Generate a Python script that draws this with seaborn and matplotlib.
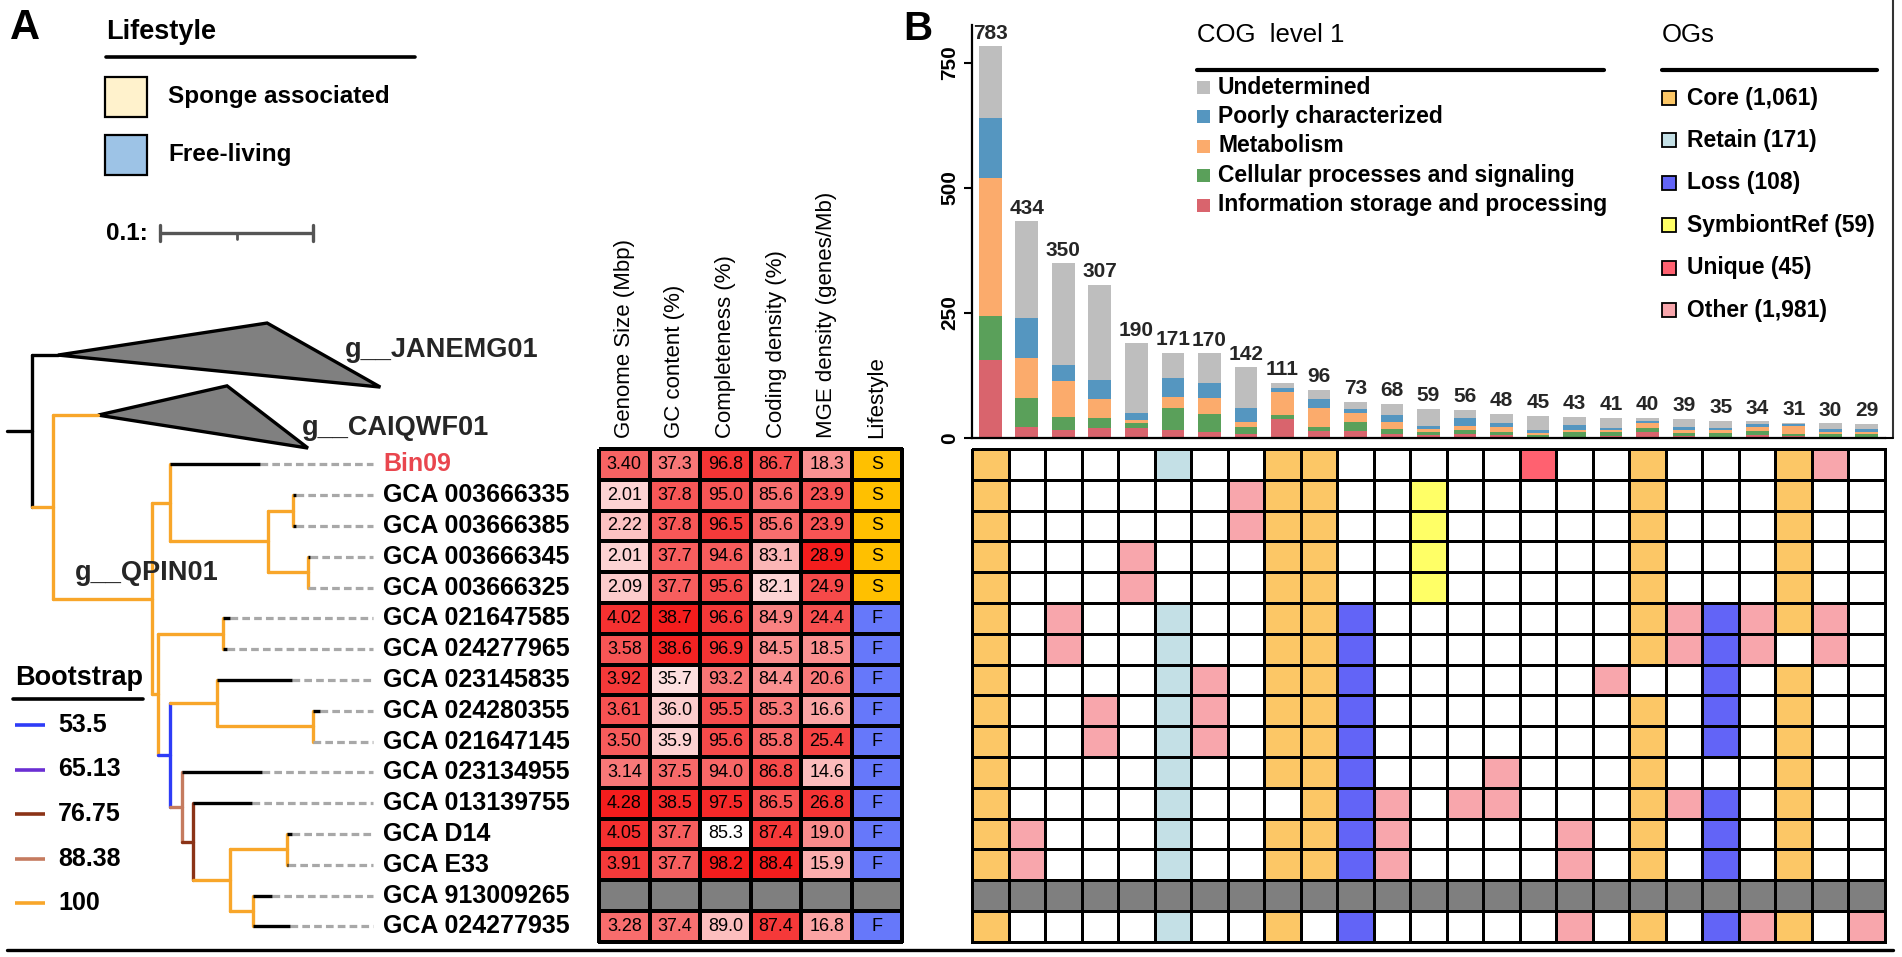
import numpy as np
import pandas as pd
import matplotlib
matplotlib.use("Agg")
import matplotlib.pyplot as plt
import seaborn as sns
from collections import defaultdict
from matplotlib.colors import ListedColormap, LinearSegmentedColormap
from matplotlib.patches import Rectangle, Polygon

sns.set_theme(style="white")
plt.rcParams['font.family'] = ['Liberation Sans', 'DejaVu Sans']

# ---------------------------------------------------------------- data
genomes = ["Bin09", "GCA 003666335", "GCA 003666385", "GCA 003666345", "GCA 003666325",
           "GCA 021647585", "GCA 024277965", "GCA 023145835", "GCA 024280355", "GCA 021647145",
           "GCA 023134955", "GCA 013139755", "GCA D14", "GCA E33", "GCA 913009265", "GCA 024277935"]
genome_size = [3.40, 2.01, 2.22, 2.01, 2.09, 4.02, 3.58, 3.92, 3.61, 3.50, 3.14, 4.28, 4.05, 3.91, np.nan, 3.28]
gc_content = [37.3, 37.8, 37.8, 37.7, 37.7, 38.7, 38.6, 35.7, 36.0, 35.9, 37.5, 38.5, 37.7, 37.7, np.nan, 37.4]
completeness = [96.8, 95.0, 96.5, 94.6, 95.6, 96.6, 96.9, 93.2, 95.5, 95.6, 94.0, 97.5, 85.3, 98.2, np.nan, 89.0]
coding_density = [86.7, 85.6, 85.6, 83.1, 82.1, 84.9, 84.5, 84.4, 85.3, 85.8, 86.8, 86.5, 87.4, 88.4, np.nan, 87.4]
mge_density = [18.3, 23.9, 23.9, 28.9, 24.9, 24.4, 18.5, 20.6, 16.6, 25.4, 14.6, 26.8, 19.0, 15.9, np.nan, 16.8]
lifestyle = ["S", "S", "S", "S", "S", "F", "F", "F", "F", "F", "F", "F", "F", "F", None, "F"]
heat_headers = ["Genome Size (Mbp)", "GC content (%)", "Completeness (%)",
                "Coding density (%)", "MGE density (genes/Mb)"]
lifestyle_header = "Lifestyle"

# tree: internal nodes (name, parent, depth, bootstrap)
tree_nodes = [
    ("root", None, 0.0, None),
    ("A", "root", 0.0163, None),
    ("B", "A", 0.0301, 100),
    ("C", "B", 0.0948, 100),
    ("D", "C", 0.1065, 100),
    ("F", "D", 0.1706, 100),
    ("G", "F", 0.1869, 100),
    ("H", "F", 0.1967, 100),
    ("E", "C", 0.0987, 100),
    ("I", "E", 0.1412, 100),
    ("J", "E", 0.1065, 53.5),
    ("K", "J", 0.1373, 100),
    ("L", "K", 0.2000, 100),
    ("M", "J", 0.1144, 88.38),
    ("N", "M", 0.1216, 76.75),
    ("O", "N", 0.1458, 100),
    ("P", "O", 0.1830, 100),
    ("Q", "O", 0.1608, 100),
]
leaf_parent = ["D", "G", "G", "H", "H", "I", "I", "K", "L", "L", "M", "N", "P", "P", "Q", "Q"]
leaf_depth = [0.1654, 0.189, 0.189, 0.198, 0.1967, 0.1458, 0.1438, 0.1863,
              0.2046, 0.2000, 0.1667, 0.1601, 0.1863, 0.1837, 0.1732, 0.1850]
clade_names = ["g__JANEMG01", "g__CAIQWF01"]
clade_parent = ["A", "B"]
clade_bootstrap = [None, 100]
clade_apex = [0.0333, 0.0595]
clade_tip_near = [0.170, 0.1438]
clade_tip_far = [0.244, 0.1967]
clade_row_apex = [-3.55, -1.60]
clade_row_upper = [-4.59, -2.55]
clade_row_lower = [-2.51, -0.53]
genus_label = "g__QPIN01"
boot_levels = [53.5, 65.13, 76.75, 88.38, 100]
boot_labels = ["53.5", "65.13", "76.75", "88.38", "100"]

# panel B
set_sizes = [783, 434, 350, 307, 190, 171, 170, 142, 111, 96, 73, 68, 59, 56, 48, 45, 43, 41, 40, 39, 35, 34, 31, 30, 29]
cog_info = [157, 23, 17, 21, 21, 17, 13, 8, 38, 14, 14, 8, 7, 9, 6, 3, 3, 5, 12, 5, 3, 7, 5, 3, 3]
cog_cell = [88, 57, 25, 20, 9, 43, 35, 15, 8, 9, 18, 10, 5, 8, 7, 3, 9, 7, 8, 5, 8, 8, 3, 5, 5]
cog_metab = [274, 81, 72, 37, 7, 22, 32, 10, 46, 38, 19, 15, 7, 7, 9, 4, 5, 5, 10, 6, 5, 7, 17, 5, 5]
cog_poor = [121, 79, 33, 39, 13, 39, 30, 27, 9, 17, 7, 14, 5, 17, 9, 6, 9, 4, 5, 7, 5, 7, 3, 6, 6]
cog_undet = [143, 194, 203, 190, 140, 50, 60, 82, 10, 18, 15, 21, 35, 15, 17, 29, 17, 20, 5, 16, 14, 5, 3, 11, 10]
cog_names = ["Information storage and processing", "Cellular processes and signaling",
             "Metabolism", "Poorly characterized", "Undetermined"]
og_names = ["Core (1,061)", "Retain (171)", "Loss (108)", "SymbiontRef (59)", "Unique (45)", "Other (1,981)"]
og_matrix = [
    "C....R..CC.....U..C...CO.",
    "C......OCC..Y.....C...C..",
    "C......OCC..Y.....C...C..",
    "C...O...CC..Y.....C...C..",
    "C...O...CC..Y.....C...C..",
    "C.O..R..CCL.......COLOCO.",
    "C.O..R..CCL.......COLO.O.",
    "C....RO.CCL......O..L.C..",
    "C..O.RO.CCL.......C.L.C..",
    "C..O.RO.CCL.......C.L.C..",
    "C....R..CCL...O...C...C..",
    "C....R...CLO.OO...COL.C..",
    "CO...R..CCLO....O.C.L.C..",
    "CO...R..CCLO....O.C.L.C..",
    "GGGGGGGGGGGGGGGGGGGGGGGGG",
    "C....R..C.L.....O.C.LOC.O",
]

# ---------------------------------------------------------------- styles
W, H = 1902, 957
ROW_TOP, ROW_H = 449, 30.8
N_ROWS = len(genomes)
BOOT_COLORS = ["#2e3cf7", "#6b2fd3", "#8b3317", "#c57b5f", "#f8a62a"]
COG_COLORS = ["#d9646d", "#5aa05a", "#fbab6c", "#5596c0", "#bebebe"]
OG_CODES = ".CRLYUOG"
OG_COLORS = ["#ffffff", "#fcc766", "#c4e0e6", "#6264f7", "#ffff66", "#ff6170", "#f8a6ac", "#7f7f7f"]
LS_COLORS = ["#ffc000", "#6678fa", "#7f7f7f"]
LW = 2.4


def boot_color(b):
    if b is None:
        return "black"
    return BOOT_COLORS[boot_levels.index(b)]


def rect(x0, y0, x1, y1):
    return [x0 / W, 1 - y1 / H, (x1 - x0) / W, (y1 - y0) / H]


def row_of(py):
    return (py - ROW_TOP) / ROW_H - 0.5


fig = plt.figure(figsize=(W / 100, H / 100), dpi=100)
fig.patch.set_facecolor("white")

# overlay axes in pixel coords for legends / decorations
ov = fig.add_axes([0, 0, 1, 1])
ov.set_xlim(0, W)
ov.set_ylim(H, 0)
ov.axis("off")

bold = dict(fontweight="bold", color="black")
ov.text(10, 28, "A", fontsize=30, va="center", **bold)
ov.text(903, 29, "B", fontsize=29, va="center", **bold)

# Lifestyle legend
ov.text(106, 32, "Lifestyle", fontsize=19.5, va="center", **bold)
ov.plot([106, 415], [57, 57], color="black", lw=2.6)
ov.add_patch(Rectangle((105, 77), 42, 40, fc="#fff2cc", ec="black", lw=1.6))
ov.text(168, 97, "Sponge associated", fontsize=17.5, va="center", **bold)
ov.add_patch(Rectangle((105, 135), 42, 40, fc="#9dc3e6", ec="black", lw=1.6))
ov.text(168, 155, "Free-living", fontsize=17.5, va="center", **bold)
ov.text(106, 233, "0.1:", fontsize=17.5, va="center", **bold)
ov.plot([160, 313], [233, 233], color="#555555", lw=2.4, solid_capstyle="butt")
ov.plot([160, 160], [225, 241], color="#555555", lw=2.4)
ov.plot([313, 313], [225, 241], color="#555555", lw=2.4)
ov.plot([237, 237], [233, 239], color="#555555", lw=2.0)

# Bootstrap legend
ov.text(15, 678, "Bootstrap", fontsize=19.5, va="center", **bold)
ov.plot([13, 143], [699, 699], color="black", lw=2.6)
for k, (lab, col) in enumerate(zip(boot_labels, BOOT_COLORS)):
    yy = 725 + k * 44.5
    ov.plot([15, 45], [yy, yy], color=col, lw=2.6, solid_capstyle="butt")
    ov.text(58, yy, lab, fontsize=18, va="center", **bold)

# COG legend
ov.text(1197, 35, "COG  level 1", fontsize=18.5, va="center", color="black")
ov.plot([1197, 1604], [70, 70], color="black", lw=3)
for k, name in enumerate(cog_names[::-1]):
    yy = 87 + k * 29.5
    ov.add_patch(Rectangle((1197, yy - 6.5), 13, 13, fc=COG_COLORS[::-1][k], ec="none"))
    ov.text(1218, yy, name, fontsize=16.5, va="center", **bold)

# OGs legend
ov.text(1662, 35, "OGs", fontsize=18.5, va="center", color="black")
ov.plot([1662, 1877], [70, 70], color="black", lw=3)
for k, name in enumerate(og_names):
    yy = 98 + k * 42.4
    ov.add_patch(Rectangle((1662, yy - 7), 14, 14, fc=OG_COLORS[k + 1], ec="black", lw=1.3))
    ov.text(1687, yy, name, fontsize=16.5, va="center", **bold)

# frame lines
ov.plot([7, 1893], [950, 950], color="black", lw=2.4)
ov.plot([1893, 1893], [0, 438], color="#333333", lw=1.5)
ov.plot([1885, 1893], [438, 438], color="black", lw=1.5)

# ---------------------------------------------------------------- tree
tx0, tx1, ty0 = 7, 599, 260
PX_PER_D = 1530
ax_t = fig.add_axes(rect(tx0, ty0, tx1, ROW_TOP + N_ROWS * ROW_H))
ax_t.set_xlim(0, (tx1 - tx0) / PX_PER_D)
ax_t.set_ylim(N_ROWS - 0.5, row_of(ty0))
ax_t.axis("off")

depth = {n[0]: n[2] for n in tree_nodes}
children = defaultdict(list)
for name, par, d, b in tree_nodes:
    if par is not None:
        children[par].append(("node", name))
for i, p in enumerate(leaf_parent):
    children[p].append(("leaf", i))
for k, p in enumerate(clade_parent):
    children[p].append(("clade", k))


def ypos(kind, key):
    if kind == "leaf":
        return key
    if kind == "clade":
        return clade_row_apex[key]
    ys = [ypos(*c) for c in children[key]]
    return (min(ys) + max(ys)) / 2


DASH_END = 0.2392
LABEL_X = 0.2458
for name, par, d, b in tree_nodes:
    y = ypos("node", name)
    col = boot_color(b)
    if par is not None:
        ax_t.plot([depth[par], d], [y, y], color=col, lw=LW, clip_on=False)
    ys = [ypos(*c) for c in children[name]]
    if len(ys) > 1:
        ax_t.plot([d, d], [min(ys), max(ys)], color=col, lw=LW, clip_on=False)

for i, (p, d) in enumerate(zip(leaf_parent, leaf_depth)):
    ax_t.plot([d, DASH_END], [i, i], color="#a8a8a8", lw=2.3, ls=(0, (2.4, 1.3)),
              solid_capstyle="butt", dash_capstyle="butt")
    if d > depth[p]:
        ax_t.plot([depth[p], d], [i, i], color="black", lw=LW, solid_capstyle="butt")
    ax_t.text(LABEL_X, i, genomes[i], fontsize=18, fontweight="bold", va="center",
              color="#e9464e" if i == 0 else "black")

for k in range(len(clade_names)):
    p = clade_parent[k]
    y = clade_row_apex[k]
    col = boot_color(clade_bootstrap[k])
    ax_t.plot([depth[p], clade_apex[k]], [y, y], color=col, lw=LW, clip_on=False)
    tri = Polygon([[clade_apex[k], y], [clade_tip_near[k], clade_row_upper[k]],
                   [clade_tip_far[k], clade_row_lower[k]]], closed=True,
                  fc="#808080", ec="black", lw=LW, joinstyle="miter", clip_on=False)
    ax_t.add_patch(tri)

ax_t.text(0.2209, -3.49, clade_names[0], fontsize=19.5, fontweight="bold", va="baseline")
ax_t.text(0.1928, -0.956, clade_names[1], fontsize=19.5, fontweight="bold", va="baseline")
ax_t.text(0.0444, 3.75, genus_label, fontsize=19.5, fontweight="bold", va="baseline")

# ---------------------------------------------------------------- heatmap
hm_vmin = [1.45, 35.2, 85.3, 80.6, 8.5]
hm_fmt = ["{:.2f}", "{:.1f}", "{:.1f}", "{:.1f}", "{:.1f}"]
cols = [genome_size, gc_content, completeness, coding_density, mge_density]
norm = np.zeros((N_ROWS, len(cols)))
annot = np.empty((N_ROWS, len(cols)), dtype=object)
for j, (c, vmin, fmt) in enumerate(zip(cols, hm_vmin, hm_fmt)):
    arr = np.array(c, dtype=float)
    vmax = np.nanmax(arr)
    for i, v in enumerate(arr):
        if np.isnan(v):
            norm[i, j] = 2.0
            annot[i, j] = ""
        else:
            norm[i, j] = (v - vmin) / (vmax - vmin)
            annot[i, j] = fmt.format(v)
hm_df = pd.DataFrame(norm, index=genomes, columns=heat_headers)
cmap_wr = LinearSegmentedColormap.from_list("wr", ["#ffffff", "#f41d1d"])
cmap_wr.set_over("#7f7f7f")

ax_h = fig.add_axes(rect(599, ROW_TOP, 852, ROW_TOP + N_ROWS * ROW_H))
sns.heatmap(hm_df, ax=ax_h, cmap=cmap_wr, vmin=0, vmax=1, annot=annot, fmt="",
            cbar=False, linewidths=1.5, linecolor="black",
            annot_kws=dict(fontsize=13, color="black"), yticklabels=False)
ax_h.collections[0].set_clip_on(False)

ls_code = [0 if s == "S" else (1 if s == "F" else 2) for s in lifestyle]
ls_df = pd.DataFrame({lifestyle_header: ls_code}, index=genomes)
ls_annot = np.array([[s if s else ""] for s in lifestyle], dtype=object)
ax_l = fig.add_axes(rect(852, ROW_TOP, 902, ROW_TOP + N_ROWS * ROW_H))
sns.heatmap(ls_df, ax=ax_l, cmap=ListedColormap(LS_COLORS), vmin=-0.5, vmax=2.5,
            annot=ls_annot, fmt="", cbar=False, linewidths=1.5, linecolor="black",
            annot_kws=dict(fontsize=13, color="black"), yticklabels=False)
ax_l.collections[0].set_clip_on(False)

for a in (ax_h, ax_l):
    a.xaxis.tick_top()
    a.tick_params(axis="x", top=True, bottom=False, labeltop=True, labelbottom=False,
                  length=0, pad=8)
    plt.setp(a.get_xticklabels(), rotation=90, ha="center", va="bottom", fontsize=16,
             color="black")
    a.set_xlabel("")
    a.set_ylabel("")

# ---------------------------------------------------------------- OG grid
code_mat = np.array([[OG_CODES.index(ch) for ch in row] for row in og_matrix])
ax_g = fig.add_axes(rect(972, ROW_TOP, 1885, ROW_TOP + N_ROWS * ROW_H))
sns.heatmap(code_mat, ax=ax_g, cmap=ListedColormap(OG_COLORS), vmin=-0.5,
            vmax=len(OG_COLORS) - 0.5, cbar=False, linewidths=1.8, linecolor="black",
            xticklabels=False, yticklabels=False)
ax_g.collections[0].set_clip_on(False)

# ---------------------------------------------------------------- stacked bars
ax_b = fig.add_axes(rect(972, 25, 1885, 438))
layers = np.array([cog_info, cog_cell, cog_metab, cog_poor, cog_undet])
cum = np.cumsum(layers, axis=0)
xs = np.arange(len(set_sizes))
for k in reversed(range(len(layers))):
    sns.barplot(x=xs, y=cum[k], color=COG_COLORS[k], width=0.62, saturation=1,
                errorbar=None, linewidth=0, ax=ax_b)
for i, v in enumerate(set_sizes):
    ax_b.text(i, v + 7, str(v), ha="center", va="bottom", fontsize=15,
              fontweight="bold", clip_on=False)
ax_b.set_xlim(-0.5, len(set_sizes) - 0.5)
ax_b.set_ylim(0, 826)
ax_b.set_xticks([])
ax_b.set_yticks([0, 250, 500, 750])
ax_b.set_yticklabels(["0", "250", "500", "750"], rotation=90, va="center",
                     fontsize=15, fontweight="bold")
ax_b.set_xlabel("")
ax_b.set_ylabel("")
sns.despine(ax=ax_b)
for s in ("left", "bottom"):
    ax_b.spines[s].set_color("black")
    ax_b.spines[s].set_linewidth(1.6)
ax_b.tick_params(axis="y", left=True, direction="out", length=6, width=1.5, pad=3,
                 colors="black")
ax_b.patch.set_alpha(0)

fig.savefig("out.png", dpi=100, facecolor="white")
